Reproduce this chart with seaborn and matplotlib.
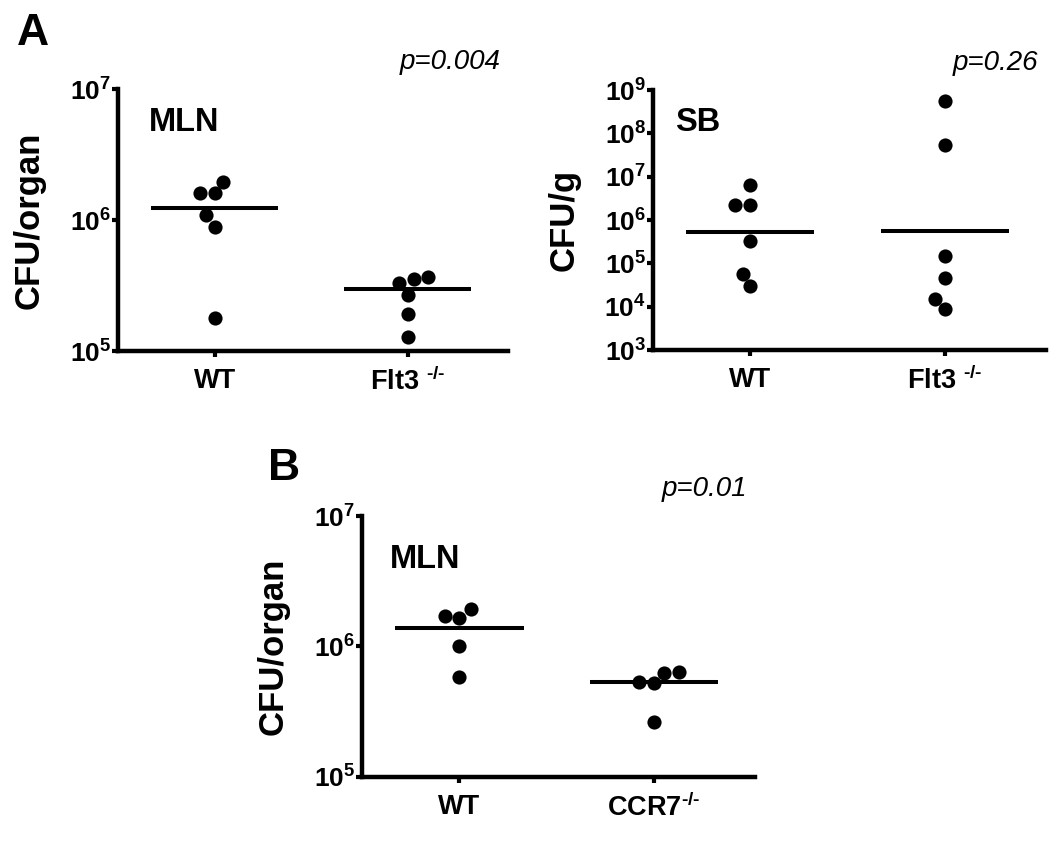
import pandas as pd
import numpy as np
import seaborn as sns
import matplotlib
matplotlib.use('Agg')
import matplotlib.pyplot as plt

### DATA
a_groups = ['WT', 'Flt3']
a_labels = ['WT', r'Flt3 $^{\text{-/-}}$']
a_mln_wt = [1.96e6, 1.6e6, 1.6e6, 1.09e6, 8.9e5, 1.8e5]
a_mln_flt3 = [3.69e5, 3.52e5, 3.29e5, 2.67e5, 1.91e5, 1.28e5]
a_mln_lines = [1.23e6, 2.96e5]
a_sb_wt = [6.4e6, 2.2e6, 2.2e6, 3.3e5, 5.7e4, 3.0e4]
a_sb_flt3 = [5.7e8, 5.4e7, 1.48e5, 4.7e4, 1.5e4, 8.7e3]
a_sb_lines = [5.4e5, 5.6e5]

b_groups = ['WT', 'CCR7']
b_labels = ['WT', r'CCR7$^{\text{-/-}}$']
b_mln_wt = [1.94e6, 1.72e6, 1.65e6, 1.01e6, 5.8e5]
b_mln_ccr7 = [6.37e5, 6.3e5, 5.31e5, 5.25e5, 2.62e5]
b_mln_lines = [1.38e6, 5.35e5]


def make_df(groups, a, b):
    return pd.DataFrame({'group': [groups[0]] * len(a) + [groups[1]] * len(b),
                         'cfu': list(a) + list(b)})


sns.set_style('ticks')
plt.rcParams['font.family'] = ['Liberation Sans', 'DejaVu Sans']
plt.rcParams['mathtext.fontset'] = 'custom'
plt.rcParams['mathtext.rm'] = 'Liberation Sans:bold'
plt.rcParams['mathtext.bf'] = 'Liberation Sans:bold'
plt.rcParams['mathtext.it'] = 'Liberation Sans:bold'
for k in ['text.color', 'axes.labelcolor', 'xtick.color', 'ytick.color', 'axes.edgecolor']:
    plt.rcParams[k] = 'black'


def panel(ax, df, groups, labels, lines, lo, hi, ylabel, tag, pval, tag_x, tag_y):
    sns.swarmplot(data=df, x='group', y='cfu', order=groups, color='black',
                  size=10.2, log_scale=True, ax=ax, zorder=3)
    ax.hlines(lines, np.arange(2) - 0.33, np.arange(2) + 0.33, color='black', lw=2.9, zorder=4)
    ax.set_xlim(-0.5, 1.52)
    ax.set_ylim(10.0 ** lo, 10.0 ** hi)
    decades = np.arange(lo, hi + 1)
    ax.set_yticks(10.0 ** decades)
    ax.set_yticklabels([r'$10^{%d}$' % d for d in decades])
    ax.minorticks_off()
    ax.set_xticks([0, 1])
    ax.set_xticklabels(labels, fontweight='bold')
    ax.tick_params(axis='y', labelsize=19, length=4, width=3, pad=1)
    ax.tick_params(axis='x', labelsize=19.5, length=4, width=3, pad=8)
    for s in ['left', 'bottom']:
        ax.spines[s].set_linewidth(3.2)
    sns.despine(ax=ax)
    ax.set_xlabel('')
    ax.set_ylabel(ylabel, fontsize=25, fontweight='bold')
    ax.yaxis.set_label_coords(-0.185, 0.5)
    ax.text(tag_x, tag_y, tag, transform=ax.transAxes, fontsize=23.5,
            fontweight='bold', ha='left', va='center')
    ax.text(0.98, 1.105, pval, transform=ax.transAxes, fontsize=20,
            fontstyle='italic', ha='right', va='center')


fig = plt.figure(figsize=(10.5, 8.43), dpi=100)
ax1 = fig.add_axes([0.1124, 0.5836, 0.3714, 0.3108])
ax2 = fig.add_axes([0.6219, 0.5848, 0.3743, 0.3084])
ax3 = fig.add_axes([0.3448, 0.0783, 0.3743, 0.3096])

panel(ax1, make_df(a_groups, a_mln_wt, a_mln_flt3), a_groups, a_labels, a_mln_lines,
      5, 7, 'CFU/organ', 'MLN', 'p=0.004', 0.08, 0.874)
panel(ax2, make_df(a_groups, a_sb_wt, a_sb_flt3), a_groups, a_labels, a_sb_lines,
      3, 9, 'CFU/g', 'SB', 'p=0.26', 0.057, 0.875)
panel(ax3, make_df(b_groups, b_mln_wt, b_mln_ccr7), b_groups, b_labels, b_mln_lines,
      5, 7, 'CFU/organ', 'MLN', 'p=0.01', 0.07, 0.835)

fig.text(17 / 1050, 1 - 45 / 843, 'A', fontsize=32, fontweight='bold')
fig.text(268 / 1050, 1 - 480 / 843, 'B', fontsize=32, fontweight='bold')

plt.savefig('out.png', dpi=100)
